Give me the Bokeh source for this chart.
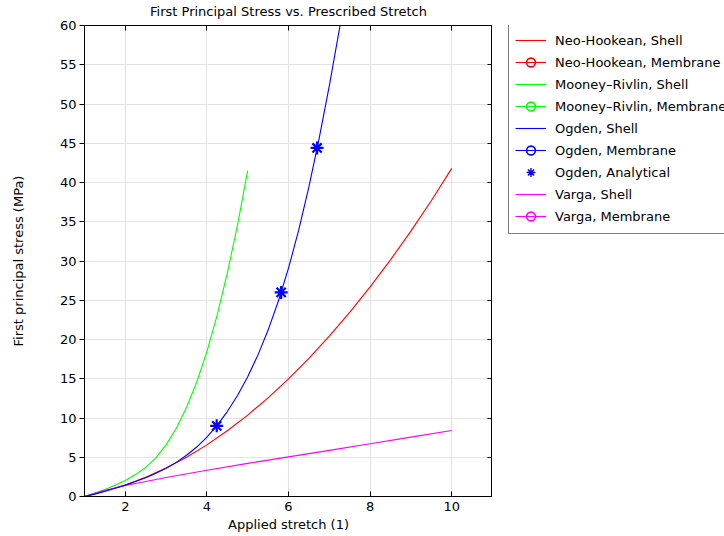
from bokeh.plotting import figure
from bokeh.models import (Legend, LegendItem, LinearAxis, FixedTicker, Range1d)
from bokeh.layouts import row
from bokeh.embed import file_html
from bokeh.resources import INLINE

FONT = "DejaVu Sans"

title = "First Principal Stress vs. Prescribed Stretch"
x_label = "Applied stretch (1)"
y_label = "First principal stress (MPa)"
x_ticks = [2, 4, 6, 8, 10]
y_ticks = [0, 5, 10, 15, 20, 25, 30, 35, 40, 45, 50, 55, 60]

# Neo-Hookean, Shell
nh_stretch = [1.0, 1.5, 2.0, 2.5, 3.0, 3.5, 4.0, 4.5, 5.0, 5.5, 6.0, 6.5, 7.0,
              7.5, 8.0, 8.5, 9.0, 9.5, 10.0]
nh_stress = [0.0, 0.66, 1.46, 2.45, 3.62, 5.0, 6.58, 8.37, 10.37, 12.57, 14.98,
             17.6, 20.42, 23.46, 26.7, 30.15, 33.81, 37.68, 41.8]

# Mooney-Rivlin, Shell
mr_stretch = [1.0, 1.25, 1.5, 1.75, 2.0, 2.25, 2.5, 2.75, 3.0, 3.25, 3.5, 3.75,
              4.0, 4.25, 4.5, 4.75, 5.0]
mr_stress = [0.0, 0.43, 0.90, 1.44, 2.05, 2.79, 3.70, 4.92, 6.58, 8.70, 11.33,
             14.55, 18.45, 23.08, 28.45, 34.58, 41.5]

# Ogden, Shell
og_stretch = [1.0, 1.25, 1.5, 1.75, 2.0, 2.25, 2.5, 2.75, 3.0, 3.25, 3.5, 3.75,
              4.0, 4.25, 4.5, 4.75, 5.0, 5.25, 5.5, 5.75, 6.0, 6.25, 6.5, 6.75,
              7.0, 7.25, 7.5]
og_stress = [0.0, 0.3, 0.66, 1.04, 1.45, 1.9, 2.4, 2.95, 3.6, 4.35, 5.25, 6.3,
             7.56, 9.06, 10.82, 12.87, 15.25, 18.01, 21.2, 24.87, 29.1, 33.92,
             39.43, 45.6, 52.3, 59.6, 67.5]

# Ogden, Analytical
an_stretch = [4.24, 5.82, 6.70]
an_stress = [9.0, 26.0, 44.4]

# Varga, Shell
va_stretch = [1.0, 1.5, 2.0, 3.0, 4.0, 5.0, 6.0, 7.0, 8.0, 9.0, 10.0]
va_stress = [0.0, 0.8, 1.4, 2.42, 3.35, 4.22, 5.05, 5.88, 6.72, 7.56, 8.4]

p = figure(width=492, height=536, output_backend="svg", toolbar_location=None,
           title=None,
           x_range=Range1d(1, 11), y_range=Range1d(0, 60),
           min_border_left=84, min_border_right=0, min_border_top=24,
           min_border_bottom=40, background_fill_color="white",
           border_fill_color="white")
p.outline_line_color = "black"
p.outline_line_width = 1

for ax in (p.xaxis[0], p.yaxis[0]):
    ax.axis_label_text_font = FONT
    ax.axis_label_text_font_size = "13px"
    ax.axis_label_text_font_style = "normal"
    ax.axis_label_text_color = "black"
    ax.major_label_text_font = FONT
    ax.major_label_text_font_size = "13px"
    ax.major_label_text_color = "black"
    ax.axis_line_color = "black"
    ax.major_tick_line_color = "black"
    ax.minor_tick_line_color = None

p.xaxis[0].axis_label = x_label
p.xaxis[0].ticker = FixedTicker(ticks=x_ticks)
p.xaxis[0].major_tick_in = 5
p.xaxis[0].major_tick_out = 0
p.xaxis[0].axis_label_standoff = 3
p.yaxis[0].axis_label = y_label
p.yaxis[0].ticker = FixedTicker(ticks=y_ticks)
p.yaxis[0].major_tick_in = 0
p.yaxis[0].major_tick_out = 5
p.yaxis[0].major_label_standoff = 3
p.yaxis[0].axis_label_standoff = 31

# top axis: inward ticks only; its axis label carries the chart title
top = LinearAxis(ticker=FixedTicker(ticks=x_ticks), major_tick_in=5,
                 major_tick_out=0, major_label_text_font_size="0px",
                 major_label_text_color=None, major_label_standoff=0,
                 minor_tick_line_color=None, axis_line_color="black",
                 major_tick_line_color="black",
                 axis_label=title, axis_label_standoff=7,
                 axis_label_text_font=FONT, axis_label_text_font_size="13px",
                 axis_label_text_font_style="normal",
                 axis_label_text_color="black")
right = LinearAxis(ticker=FixedTicker(ticks=y_ticks), major_tick_in=5,
                   major_tick_out=0, major_label_text_font_size="0px",
                   major_label_text_color=None, major_label_standoff=0,
                   minor_tick_line_color=None, axis_line_color="black",
                   major_tick_line_color="black")
p.add_layout(top, "above")
p.add_layout(right, "right")

p.xgrid.ticker = FixedTicker(ticks=x_ticks)
p.ygrid.ticker = FixedTicker(ticks=y_ticks)
p.grid.grid_line_color = "#e3e3e3"
p.grid.grid_line_width = 1.2

p.line(nh_stretch, nh_stress, line_color="red", line_width=1.1)
p.line(mr_stretch, mr_stress, line_color="#00ff00", line_width=1.1)
p.line(va_stretch, va_stress, line_color="magenta", line_width=1.1)
p.line(og_stretch, og_stress, line_color="blue", line_width=1.1)
p.scatter(an_stretch, an_stress, marker="asterisk", size=13,
          line_color="blue", line_width=2.2)

# Legend panel (separate figure to the right, clipped at the window edge)
lg = figure(width=232, height=536, output_backend="svg", toolbar_location=None,
            x_axis_type=None, y_axis_type=None, x_range=Range1d(0, 1),
            y_range=Range1d(0, 1), min_border=0, outline_line_color=None,
            background_fill_color="white", border_fill_color="white")
lg.grid.visible = False

series = [
    ("Neo-Hookean, Shell", "red", "line"),
    ("Neo-Hookean, Membrane", "red", "membrane"),
    ("Mooney\u2013Rivlin, Shell", "#00ff00", "line"),
    ("Mooney\u2013Rivlin, Membrane", "#00ff00", "membrane"),
    ("Ogden, Shell", "blue", "line"),
    ("Ogden, Membrane", "blue", "membrane"),
    ("Ogden, Analytical", "blue", "star"),
    ("Varga, Shell", "magenta", "line"),
    ("Varga, Membrane", "magenta", "membrane"),
]
off = [-10.0]  # placeholder point outside the legend panel's view
items = []
for label, color, kind in series:
    rs = []
    if kind in ("line", "membrane"):
        rs.append(lg.line(off, off, line_color=color, line_width=1.1))
    if kind == "membrane":
        rs.append(lg.scatter(off, off, marker="circle", size=9, line_color=color,
                             fill_color=None, line_width=1.6))
    if kind == "star":
        rs.append(lg.scatter(off, off, marker="asterisk", size=13,
                             line_color=color, line_width=1.4))
    items.append(LegendItem(label=label, renderers=rs))

legend = Legend(items=items, location=(16, 262), orientation="vertical",
                border_line_color="black", border_line_width=1,
                background_fill_color="white", background_fill_alpha=1,
                label_text_font=FONT, label_text_font_size="13px",
                label_text_color="black", glyph_width=31, glyph_height=22,
                label_height=22, spacing=0, padding=6, margin=0,
                label_standoff=9)
lg.add_layout(legend, "center")

layout = row(p, lg, spacing=0)
open("out.html", "w").write(file_html(layout, INLINE))
